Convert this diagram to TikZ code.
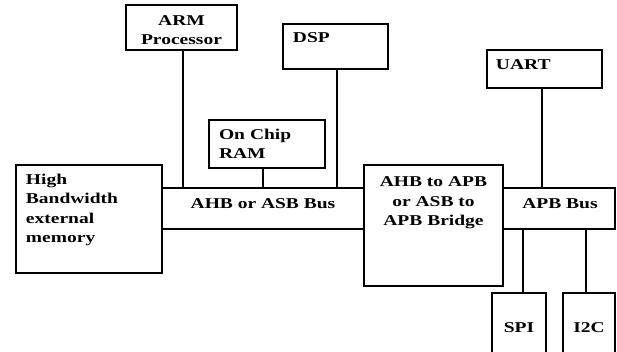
\documentclass[tikz,border=0pt]{standalone}
\usepackage{fontspec}
\setmainfont[FakeStretch=1.3]{Liberation Serif}
\usepackage{tikz}
\usetikzlibrary{positioning,calc}
\tikzset{
  blockbox/.style={draw,line width=2.5pt,inner xsep=10pt,inner ysep=0pt,align=left,
    font=\fontsize{15}{19}\selectfont\bfseries},
  busbox/.style={draw,line width=2.5pt,inner sep=0pt,align=center,
    font=\fontsize{15}{19}\selectfont\bfseries},
  boxlabel/.style={inner sep=0pt,align=center,font=\fontsize{15}{19.5}\selectfont\bfseries},
  busline/.style={line width=2.5pt}
}
\begin{document}
\begin{tikzpicture}[x=1pt,y=-1pt]
  \useasboundingbox (0,0) rectangle (617,351);
  \clip (0,0) rectangle (617,351);
  % buses first, blocks on top
  \node[busbox,minimum width=202pt,minimum height=41pt] (ahb) at (263,208.5) {};
  \node[boxlabel] (ahb-label) at (263,204) {AHB or ASB Bus};
  \node[busbox,minimum width=112pt,minimum height=41pt] (apb) at (559,208.5) {};
  \node[boxlabel] (apb-label) at (560,204) {APB Bus};
  % blocks
  \node[busbox,fill=white,minimum width=146pt,minimum height=108pt] (mem) at (89,219) {};
  \node[boxlabel,anchor=north west,align=left] (mem-label) at ([xshift=11pt,yshift=-10pt]mem.north west)
    {High\\Bandwidth\\external\\memory};
  \node[busbox,fill=white,minimum width=139pt,minimum height=121pt] (bridge) at (433.5,225.5) {};
  \node[boxlabel,anchor=north] (bridge-label) at ([yshift=-13pt]bridge.north)
    {AHB to APB\\or ASB to\\APB Bridge};
  \node[busbox,minimum width=111pt,minimum height=45pt] (arm) at (181.5,27.5) {};
  \node[boxlabel] (arm-label) at ([yshift=-2.5pt]arm.center) {ARM\\Processor};
  \node[busbox,minimum width=105pt,minimum height=45pt] (dsp) at (335.5,46.5) {};
  \node[boxlabel,anchor=north west] (dsp-label) at ([xshift=11pt,yshift=-10pt]dsp.north west) {DSP};
  \node[blockbox,minimum width=116pt,minimum height=48pt,text width=96pt]
    (ram) at (267,144) {On Chip\\RAM};
  \node[busbox,minimum width=115pt,minimum height=38pt] (uart) at (544.5,69) {};
  \node[boxlabel,anchor=west] (uart-label) at ([xshift=10pt,yshift=4pt]uart.west) {UART};
  \node[busbox,minimum width=54pt,minimum height=80pt] (spi) at (519,333) {};
  \node[boxlabel] (spi-label) at (519,328) {SPI};
  \node[busbox,minimum width=52pt,minimum height=80pt] (i2c) at (589,333) {};
  \node[boxlabel] (i2c-label) at (589,328) {I2C};
  % connectors
  \draw[busline] ([xshift=1.5pt]arm.south) -- ([xshift=1.5pt]arm.south |- ahb.north);
  \draw[busline] ([xshift=1.5pt]dsp.south) -- ([xshift=1.5pt]dsp.south |- ahb.north);
  \draw[busline] ([xshift=-4pt]ram.south) -- ([xshift=-4pt]ram.south |- ahb.north);
  \draw[busline] ([xshift=-2.5pt]uart.south) -- ([xshift=-2.5pt]uart.south |- apb.north);
  \draw[busline] ([xshift=4pt]spi.north) -- ([xshift=4pt]spi.north |- apb.south);
  \draw[busline] ([xshift=-3pt]i2c.north) -- ([xshift=-3pt]i2c.north |- apb.south);
\end{tikzpicture}
\end{document}
